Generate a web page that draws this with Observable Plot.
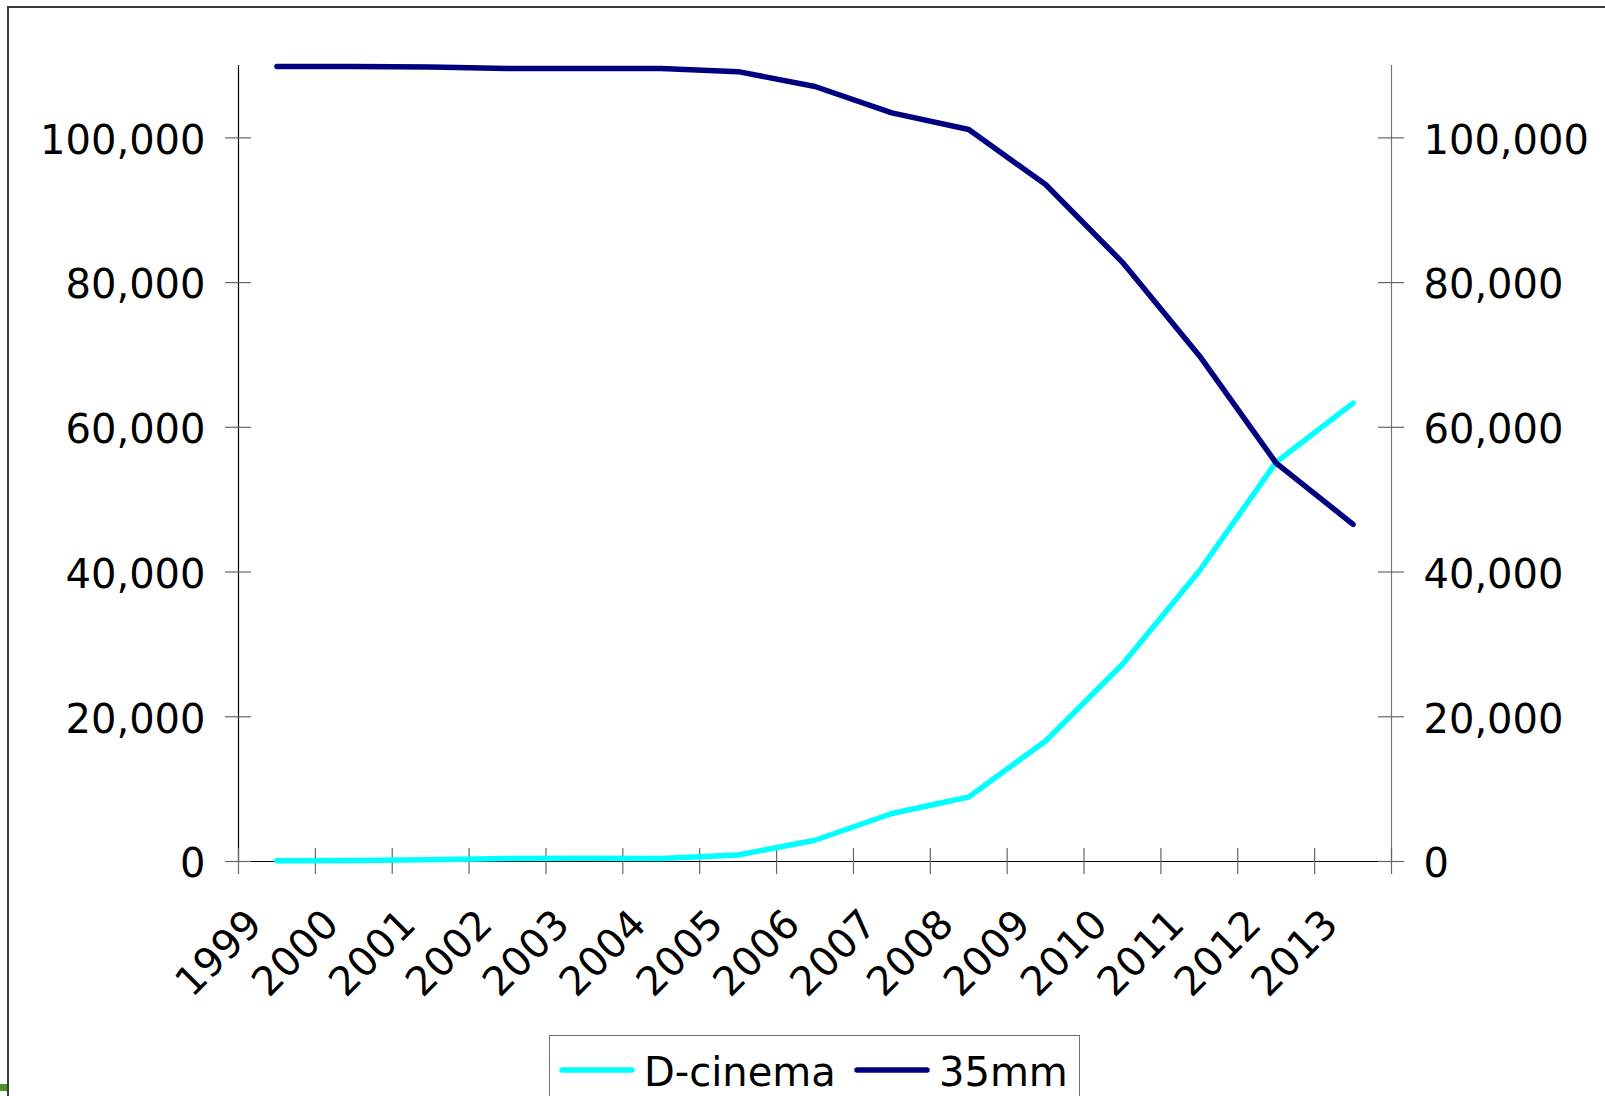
<!DOCTYPE html>
<html>
<head>
<meta charset="utf-8">
<script src="https://cdn.jsdelivr.net/npm/d3@7"></script>
<script src="https://cdn.jsdelivr.net/npm/@observablehq/plot@0.6"></script>
<style>
  html, body { margin: 0; padding: 0; background: #fff; overflow: hidden; }
  body { width: 1605px; height: 1096px; position: relative; font-family: "DejaVu Sans", Verdana, sans-serif; }
  #frame { position: absolute; left: 7px; top: 6px; width: 1620px; height: 1110px; border: 2px solid #3a3a3a; box-sizing: border-box; }
  #chart { position: absolute; left: 0; top: 0; }
  #legend { position: absolute; left: 549px; top: 1035px; width: 531px; height: 80px; border: 1.5px solid #707070; box-sizing: border-box; background: #fff; }
  #legend svg { display: block; }
  #corner { position: absolute; left: 0; top: 1084px; width: 7px; height: 7px; background: #4b9628; }
</style>
</head>
<body>
<div id="frame"></div>
<div id="chart"></div>
<div id="legend"></div>
<div id="corner"></div>
<script>
// Installed screens by year: digital projection vs. 35mm film
const years = [1999, 2000, 2001, 2002, 2003, 2004, 2005, 2006, 2007, 2008, 2009, 2010, 2011, 2012, 2013];
const dCinema = [100, 150, 250, 400, 450, 400, 900, 2940, 6630, 8920, 16660, 27250, 40140, 55190, 63340];
const film35 = [109850, 109850, 109800, 109600, 109600, 109600, 109150, 107100, 103450, 101150, 93550, 82800, 69900, 55050, 46600];
const seriesNames = ["D-cinema", "35mm"];
const seriesColors = ["#00ffff", "#000080"];
const yTicks = [0, 20000, 40000, 60000, 80000, 100000];
const yMax = 110000;

const rows = [
  ...years.map((year, i) => ({year, value: dCinema[i], series: seriesNames[0]})),
  ...years.map((year, i) => ({year, value: film35[i], series: seriesNames[1]}))
];

// Category boundaries: tick marks sit between the years
const xMin = years[0] - 0.5;
const xMax = years[years.length - 1] + 0.5;
const boundaries = d3.range(years.length + 1).map(i => xMin + i);

const font = "DejaVu Sans, Verdana, sans-serif";
const fmt = d3.format(",");

const chart = Plot.plot({
  width: 1605,
  height: 1000,
  marginTop: 65,
  marginBottom: 139,
  marginLeft: 238,
  marginRight: 214,
  style: {fontFamily: font, background: "transparent", overflow: "visible"},
  x: {type: "linear", domain: [xMin, xMax], axis: null},
  y: {domain: [0, yMax], axis: null},
  color: {domain: seriesNames, range: seriesColors},
  marks: [
    // axis lines
    Plot.ruleX([xMin], {y1: 0, y2: yMax, stroke: "#000", strokeWidth: 1.2}),
    Plot.ruleX([xMax], {y1: 0, y2: yMax, stroke: "#777", strokeWidth: 1.2}),
    Plot.ruleY([0], {x1: xMin, x2: xMax, insetLeft: -13, insetRight: -13, stroke: "#000", strokeWidth: 1.2}),
    // tick marks crossing the axes
    Plot.ruleY(yTicks, {y: d => d, x1: xMin, x2: xMin, insetLeft: -13, insetRight: -13, stroke: "#666", strokeWidth: 1.2}),
    Plot.ruleY(yTicks, {y: d => d, x1: xMax, x2: xMax, insetLeft: -13, insetRight: -13, stroke: "#666", strokeWidth: 1.2}),
    Plot.ruleX(boundaries, {x: d => d, y1: 0, y2: 0, insetTop: -13, insetBottom: -13, stroke: "#666", strokeWidth: 1.2}),
    // tick labels
    Plot.text(yTicks, {y: d => d, text: d => fmt(d), frameAnchor: "left", textAnchor: "end", dx: -33, dy: 3, fontSize: 40, fill: "#000"}),
    Plot.text(yTicks, {y: d => d, text: d => fmt(d), frameAnchor: "right", textAnchor: "start", dx: 32, dy: 3, fontSize: 40, fill: "#000"}),
    Plot.text(years, {x: d => d, text: d => String(d), frameAnchor: "bottom", rotate: -45, textAnchor: "end", lineAnchor: "bottom", dx: -13, dy: 65, fontSize: 40, fill: "#000"}),
    // series
    Plot.line(rows, {x: "year", y: "value", z: "series", stroke: "series", strokeWidth: 5.5, strokeLinecap: "round", strokeLinejoin: "round"})
  ]
});
document.getElementById("chart").appendChild(chart);

// Legend
const legend = d3.select("#legend").append("svg").attr("width", 528).attr("height", 78);
const entries = [
  {name: seriesNames[0], color: seriesColors[0], x: 12},
  {name: seriesNames[1], color: seriesColors[1], x: 307}
];
entries.forEach(e => {
  legend.append("line")
    .attr("x1", e.x).attr("x2", e.x + 70)
    .attr("y1", 34).attr("y2", 34)
    .attr("stroke", e.color).attr("stroke-width", 5.5).attr("stroke-linecap", "round");
  legend.append("text")
    .attr("x", e.x + 82).attr("y", 50)
    .attr("font-family", font).attr("font-size", 40).attr("fill", "#000")
    .text(e.name);
});
</script>
</body>
</html>
